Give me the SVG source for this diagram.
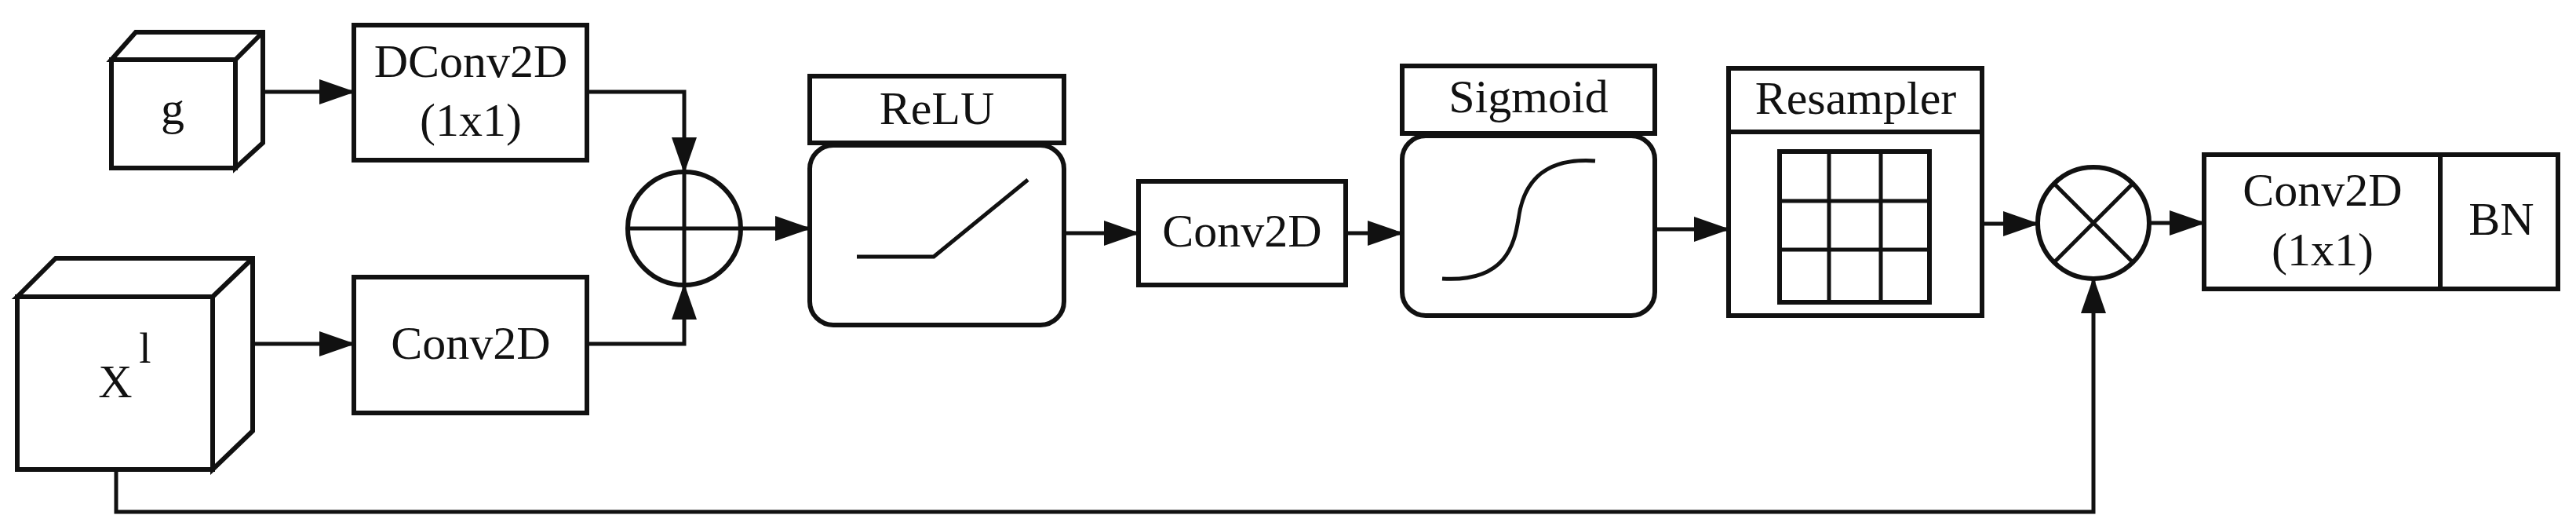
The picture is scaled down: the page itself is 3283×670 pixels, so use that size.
<svg xmlns="http://www.w3.org/2000/svg" width="3283" height="670" viewBox="0 0 3283 670">
<style>
.b{fill:#fff;stroke:#111;stroke-width:6}
.t{font-family:"Liberation Serif",serif;font-size:60px;fill:#111;text-anchor:middle}
.c{fill:none;stroke:#111;stroke-width:5}
.i{fill:none;stroke:#111;stroke-width:5}
</style>
<defs>
<marker id="a" markerUnits="userSpaceOnUse" markerWidth="46" markerHeight="32" refX="44" refY="16" orient="auto">
<path d="M0,0 L46,16 L0,32 Z" fill="#111"/>
</marker>
</defs>
<g id="g">
<path class="b" d="M142,76 L173,41 L335,41 L335,182 L300,214 L300,76 Z M142,76 L300,76 L335,41"/>
<rect class="b" x="142" y="76" width="158" height="138"/>
<text class="t" x="220" y="158">g</text>
</g>
<g id="xl">
<path class="b" d="M22,378 L71,329 L322,329 L322,549 L271,598 L271,378 Z M22,378 L271,378 L322,329"/>
<rect class="b" x="22" y="378" width="249" height="220"/>
<text class="t" x="147" y="506">X</text>
<text class="t" x="185" y="462" style="font-size:55px">l</text>
</g>
<g id="dconv">
<rect class="b" x="451" y="32" width="297" height="172"/>
<text class="t" x="600" y="98">DConv2D</text>
<text class="t" x="600" y="173">(1x1)</text>
</g>
<g id="conv1">
<rect class="b" x="451" y="353" width="297" height="173"/>
<text class="t" x="600" y="457">Conv2D</text>
</g>
<g id="add">
<circle class="b" cx="872" cy="291" r="72"/>
<path class="i" d="M800,291 H944 M872,219 V363"/>
</g>
<g id="relu">
<rect class="b" x="1032" y="97" width="324" height="85"/>
<text class="t" x="1194" y="158">ReLU</text>
<rect class="b" x="1032" y="185" width="324" height="229" rx="30"/>
<path class="i" d="M1092,327 H1190 L1310,229"/>
</g>
<g id="conv2">
<rect class="b" x="1451" y="231" width="264" height="132"/>
<text class="t" x="1583" y="314">Conv2D</text>
</g>
<g id="sigmoid">
<rect class="b" x="1787" y="84" width="322" height="86"/>
<text class="t" x="1948" y="143">Sigmoid</text>
<rect class="b" x="1787" y="173" width="322" height="229" rx="30"/>
<path class="i" d="M1838,355 C1920,360 1930,310 1935,280 C1940,240 1960,200 2033,205"/>
</g>
<g id="resampler">
<rect class="b" x="2203" y="87" width="323" height="81"/>
<text class="t" x="2365" y="145">Resampler</text>
<rect class="b" x="2203" y="168" width="323" height="234"/>
<rect class="b" x="2268" y="193" width="191" height="192"/>
<path class="i" d="M2331,193 V385 M2397,193 V385 M2268,256 H2459 M2268,318 H2459"/>
</g>
<g id="mul">
<circle class="b" cx="2668" cy="284" r="71"/>
<path class="i" d="M2618,234 L2718,334 M2718,234 L2618,334"/>
</g>
<g id="convbn">
<rect class="b" x="2809" y="197" width="301" height="171"/>
<text class="t" x="2960" y="262">Conv2D</text>
<text class="t" x="2960" y="338">(1x1)</text>
<rect class="b" x="3110" y="197" width="150" height="171"/>
<text class="t" x="3188" y="299">BN</text>
</g>
<g id="connectors">
<path class="c" marker-end="url(#a)" d="M335,117 H451"/>
<path class="c" marker-end="url(#a)" d="M322,438 H451"/>
<path class="c" marker-end="url(#a)" d="M748,117 H872 V219"/>
<path class="c" marker-end="url(#a)" d="M748,438 H872 V363"/>
<path class="c" marker-end="url(#a)" d="M944,291 H1032"/>
<path class="c" marker-end="url(#a)" d="M1356,297 H1451"/>
<path class="c" marker-end="url(#a)" d="M1715,297 H1787"/>
<path class="c" marker-end="url(#a)" d="M2109,292 H2203"/>
<path class="c" marker-end="url(#a)" d="M2526,285 H2597"/>
<path class="c" marker-end="url(#a)" d="M2739,284 H2809"/>
<path class="c" marker-end="url(#a)" d="M148,598 V652 H2668 V355"/>
</g>
</svg>
